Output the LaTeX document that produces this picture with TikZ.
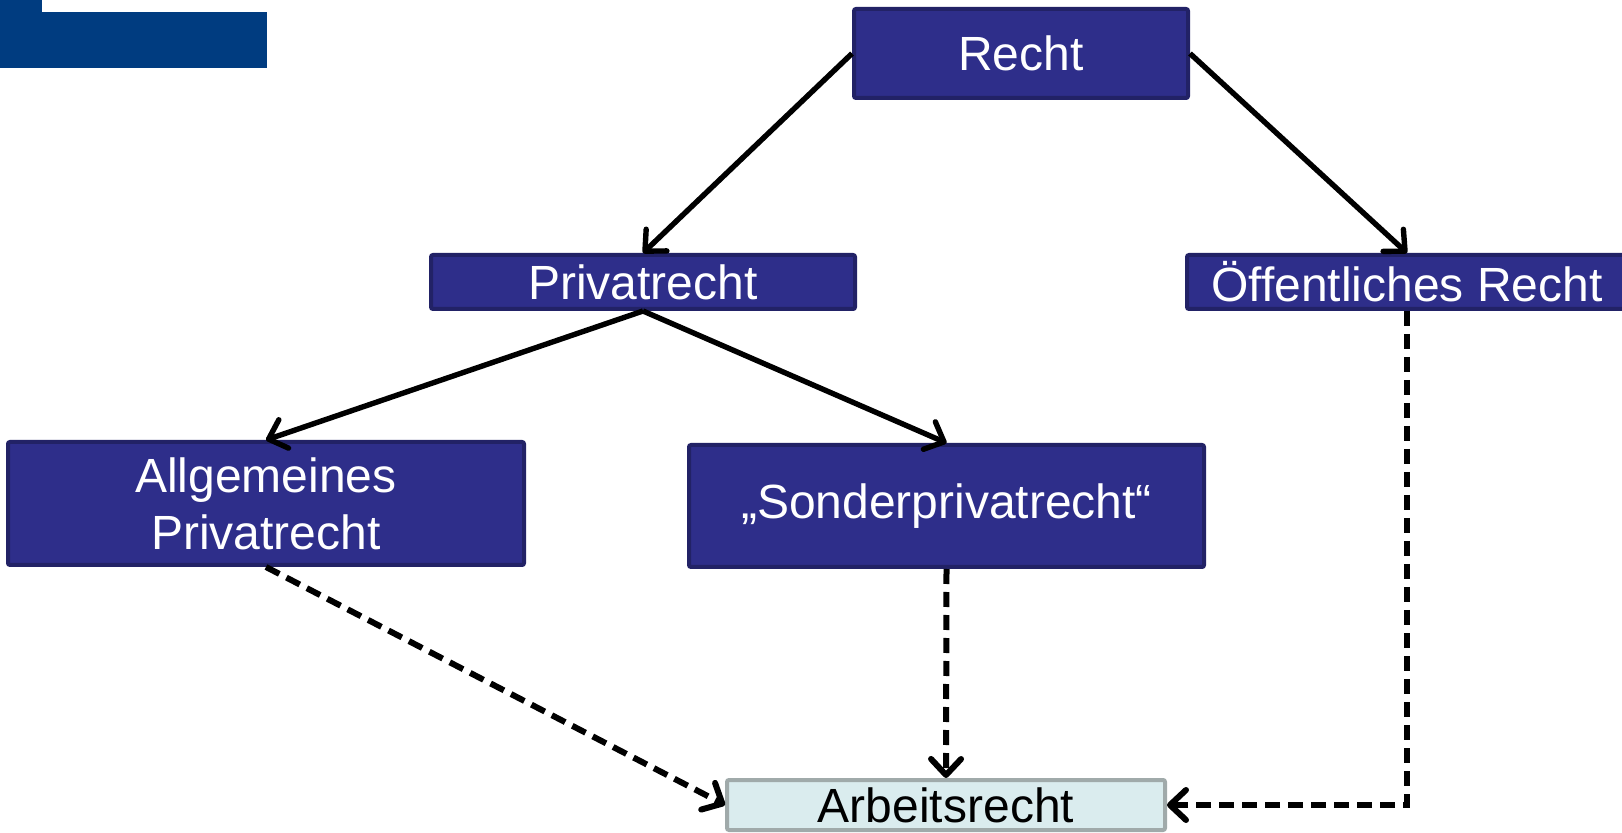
\documentclass[tikz,border=0pt]{standalone}
\usepackage{fontspec}
\setmainfont{Liberation Sans}
\usepackage{tikz}
\usetikzlibrary{arrows.meta,positioning}

\definecolor{balken}{RGB}{0,60,128}
\definecolor{boxblau}{RGB}{46,46,138}
\definecolor{boxrand}{RGB}{34,34,102}
\definecolor{zielfill}{RGB}{218,236,238}
\definecolor{zielrand}{RGB}{160,170,170}

\tikzset{
    rechtbox/.style={draw=boxrand, fill=boxblau, line width=2pt, rounded corners=1pt,
        text=white, align=center, inner sep=0pt,
        font=\fontsize{24}{28.5}\selectfont},
    zielbox/.style={draw=zielrand, fill=zielfill, line width=2pt, rounded corners=1pt,
        text=black, align=center, inner sep=0pt,
        font=\fontsize{24}{28.5}\selectfont},
    pfeil/.style={->, line width=2.7pt},
    gestrichelt/.style={->, line width=3pt, dash pattern=on 7.5pt off 4pt},
    >={Straight Barb[length=8pt,width=15pt,line cap=round,line join=round]}
}

\begin{document}
\begin{tikzpicture}[x=0.5pt, y=-0.5pt]
        \useasboundingbox (0,0) rectangle (1622,833);

        % balken oben links
        \fill[balken] (0,12) rectangle (267,68);
        \fill[balken] (0,0) rectangle (42,12);

        \node (recht) at (1021,53.5) [rechtbox, minimum width=167pt, minimum height=44.5pt] {Recht};
        \node (privat) at (643,282) [rechtbox, minimum width=212pt, minimum height=27pt] {Privatrecht};
        \node (oeff) at (1407,282) [rechtbox, minimum width=220pt, minimum height=27pt] {Öffentliches Recht};
        \node (allg) at (266,503.5) [rechtbox, minimum width=258pt, minimum height=61.5pt] {Allgemeines\\Privatrecht};
        \node (sonder) at (946.5,506) [rechtbox, minimum width=257.5pt, minimum height=61pt] {„Sonderprivatrecht“};
        \node (arbeit) at (946,805) [zielbox, minimum width=219pt, minimum height=25pt] {Arbeitsrecht};

        \draw[pfeil] (recht.west) -- (privat.north);
        \draw[pfeil] (recht.east) -- (oeff.north);
        \draw[pfeil] (privat.south) -- (allg.north);
        \draw[pfeil] (privat.south) -- (sonder.north);

        \draw[gestrichelt] (allg.south) -- (arbeit.west);
        \draw[gestrichelt] (sonder.south) -- (arbeit.north);
        \draw[gestrichelt] (oeff.south) |- (arbeit.east);
    \end{tikzpicture}
\end{document}
